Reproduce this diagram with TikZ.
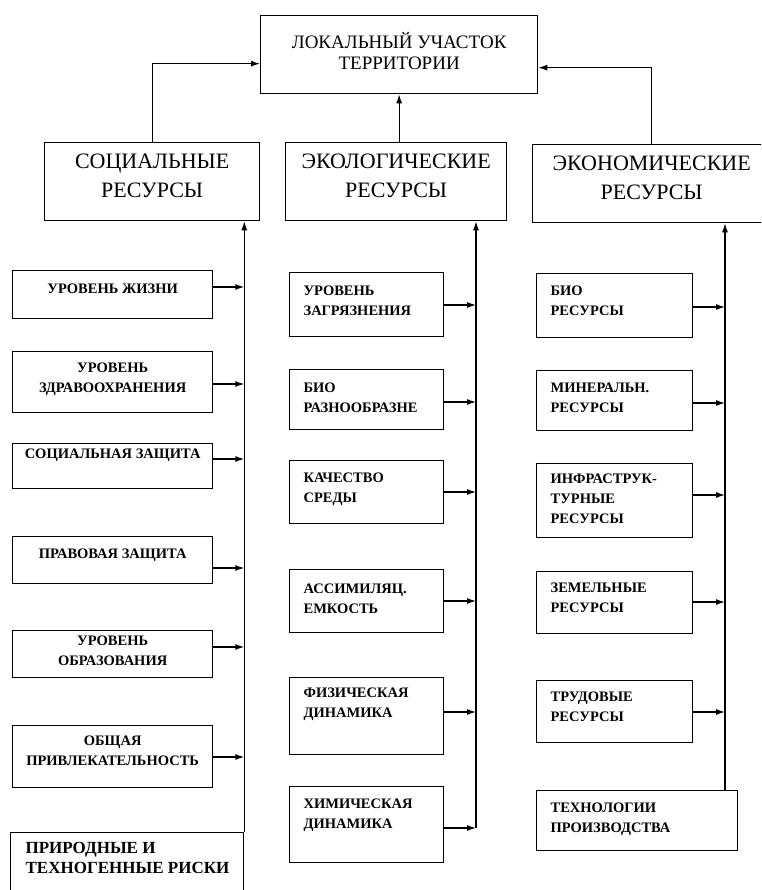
\documentclass[tikz,border=0pt]{standalone}
\usepackage{fontspec}
\setmainfont{Liberation Serif}
\usetikzlibrary{arrows.meta}
\newcommand{\smallf}{\fontsize{14.5}{20}\selectfont\bfseries}
\newcommand{\headf}{\fontsize{22}{29}\selectfont}
\tikzset{
  cell/.style={draw, line width=1.3pt, anchor=north west, inner sep=0pt},
  sbox/.style={cell, minimum width=200pt},
  ebox/.style={cell, minimum width=154pt},
  nbox/.style={cell, minimum width=156pt},
  head/.style={cell, minimum height=78pt, label={[align=center, font=\headf, yshift=6pt]center:#1}},
  ctxt/.style 2 args={label={[anchor=north, align=center, font=\smallf, inner sep=0pt, yshift=-#1pt]north:#2}},
  ltxt/.style 2 args={label={[anchor=north west, align=left, font=\smallf, inner sep=0pt, xshift=14pt, yshift=-#1pt]north west:#2}}
}
\begin{document}
\begin{tikzpicture}[x=1pt, y=-1pt, line width=1.2pt, >={Latex[length=9pt,width=6pt]}]
  \useasboundingbox (0,0) rectangle (761,890);
  \clip (0,0) rectangle (761,890);
  \node[cell, minimum width=277pt, minimum height=78pt, label={[align=center, font=\fontsize{19}{21}\selectfont, yshift=4pt]center:ЛОКАЛЬНЫЙ УЧАСТОК\\ТЕРРИТОРИИ}] (top) at (260,15) {};
  \node[head={СОЦИАЛЬНЫЕ\\РЕСУРСЫ}, minimum width=215pt] (soc) at (44,142) {};
  \node[head={ЭКОЛОГИЧЕСКИЕ\\РЕСУРСЫ}, minimum width=221pt] (eco) at (285,142) {};
  \node[head={ЭКОНОМИЧЕСКИЕ\\РЕСУРСЫ}, minimum width=238pt] (ecn) at (532,144) {};
  \draw[->] (soc.north) |- ([yshift=-9pt]top.west);
  \draw[->] (eco.north -| top.south) -- (top.south);
  \draw[->] (ecn.north) |- ([yshift=-13pt]top.east);

  \node[sbox, minimum height=48pt, ctxt={13}{УРОВЕНЬ ЖИЗНИ}] (s1) at (12,270) {};
  \node[sbox, minimum height=61pt, ctxt={11}{УРОВЕНЬ\\ЗДРАВООХРАНЕНИЯ}] (s2) at (12,351) {};
  \node[sbox, minimum height=45pt, ctxt={5}{СОЦИАЛЬНАЯ ЗАЩИТА}] (s3) at (12,443) {};
  \node[sbox, minimum height=47pt, ctxt={12}{ПРАВОВАЯ ЗАЩИТА}] (s4) at (12,536) {};
  \node[sbox, minimum height=47pt, ctxt={5}{УРОВЕНЬ\\ОБРАЗОВАНИЯ}] (s5) at (12,630) {};
  \node[sbox, minimum height=62pt, ctxt={10}{ОБЩАЯ\\ПРИВЛЕКАТЕЛЬНОСТЬ}] (s6) at (12,725) {};
  \node[cell, minimum width=233pt, minimum height=70pt, label={[anchor=north west, align=left, inner sep=0pt, xshift=15pt, yshift=-10pt, font=\fontsize{17}{20}\selectfont\bfseries]north west:ПРИРОДНЫЕ И\\ТЕХНОГЕННЫЕ РИСКИ}] (risk) at (10,832) {};
  \draw[->] (risk.north east) -- (risk.north east |- soc.south);
  \foreach \b/\y in {s1/287, s2/384, s3/459, s4/568, s5/647, s6/757}
    \draw[->] (\b.east |- 0,\y) -- (risk.north east |- 0,\y);

  \node[ebox, minimum height=64pt, ltxt={13}{УРОВЕНЬ\\ЗАГРЯЗНЕНИЯ}] (e1) at (289,272) {};
  \node[ebox, minimum height=60pt, ltxt={13}{БИО\\РАЗНООБРАЗНЕ}] (e2) at (289,369) {};
  \node[ebox, minimum height=63pt, ltxt={12}{КАЧЕСТВО\\СРЕДЫ}] (e3) at (289,460) {};
  \node[ebox, minimum height=63pt, ltxt={14}{АССИМИЛЯЦ.\\ЕМКОСТЬ}] (e4) at (289,569) {};
  \node[ebox, minimum height=77pt, ltxt={10}{ФИЗИЧЕСКАЯ\\ДИНАМИКА}] (e5) at (289,677) {};
  \node[ebox, minimum height=76pt, ltxt={12}{ХИМИЧЕСКАЯ\\ДИНАМИКА}] (e6) at (289,786) {};
  \coordinate (ebot) at (476,828);
  \draw[->] (ebot) -- (ebot |- eco.south);
  \foreach \b/\y in {e1/305, e2/402, e3/492, e4/601, e5/712, e6/828}
    \draw[->] (\b.east |- 0,\y) -- (ebot |- 0,\y);

  \node[nbox, minimum height=64pt, ltxt={12}{БИО\\РЕСУРСЫ}] (n1) at (536,273) {};
  \node[nbox, minimum height=60pt, ltxt={12}{МИНЕРАЛЬН.\\РЕСУРСЫ}] (n2) at (536,370) {};
  \node[nbox, minimum height=74pt, ltxt={10}{ИНФРАСТРУК-\\ТУРНЫЕ\\РЕСУРСЫ}] (n3) at (536,463) {};
  \node[nbox, minimum height=62pt, ltxt={11}{ЗЕМЕЛЬНЫЕ\\РЕСУРСЫ}] (n4) at (536,571) {};
  \node[nbox, minimum height=62pt, ltxt={11}{ТРУДОВЫЕ\\РЕСУРСЫ}] (n5) at (536,680) {};
  \node[cell, minimum width=201pt, minimum height=60pt, ltxt={12}{ТЕХНОЛОГИИ\\ПРОИЗВОДСТВА}] (tech) at (536,790) {};
  \coordinate (nbot) at (725,790);
  \draw[->] (nbot) -- (nbot |- ecn.south);
  \foreach \b/\y in {n1/307, n2/403, n3/495, n4/602, n5/712}
    \draw[->] (\b.east |- 0,\y) -- (nbot |- 0,\y);
\end{tikzpicture}
\end{document}
